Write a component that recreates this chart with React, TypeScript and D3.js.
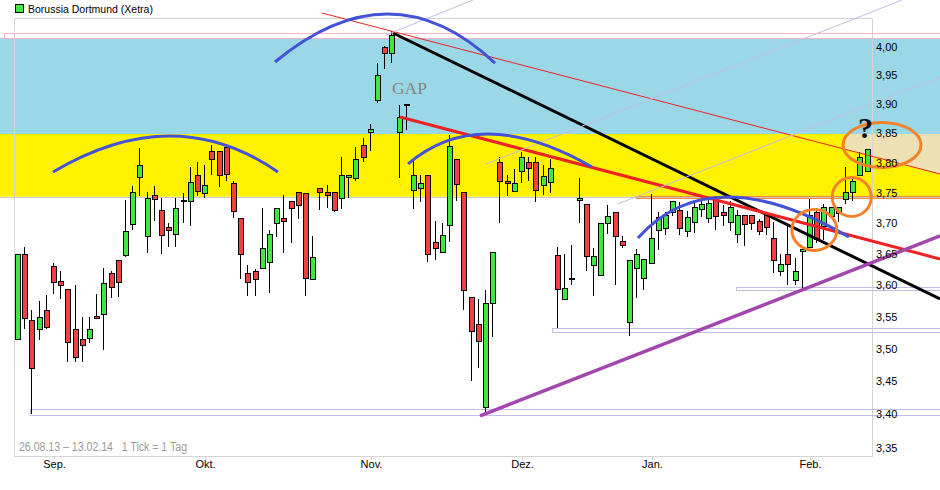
import * as d3 from "d3";

const W = 940;
const H = 490;
const FRAME = { left: 14, top: 18, right: 872, bottom: 456 };

// trading days, 26.08.13 - 13.02.14
const dates = [
  "26.08.13", "27.08.13", "28.08.13", "29.08.13", "30.08.13",
  "02.09.13", "03.09.13", "04.09.13", "05.09.13", "06.09.13", "09.09.13", "10.09.13", "11.09.13", "12.09.13", "13.09.13",
  "16.09.13", "17.09.13", "18.09.13", "19.09.13", "20.09.13", "23.09.13", "24.09.13", "25.09.13", "26.09.13", "27.09.13", "30.09.13",
  "01.10.13", "02.10.13", "03.10.13", "04.10.13", "07.10.13", "08.10.13", "09.10.13", "10.10.13", "11.10.13", "14.10.13",
  "15.10.13", "16.10.13", "17.10.13", "18.10.13", "21.10.13", "22.10.13", "23.10.13", "24.10.13", "25.10.13", "28.10.13",
  "29.10.13", "30.10.13", "31.10.13",
  "01.11.13", "04.11.13", "05.11.13", "06.11.13", "07.11.13", "08.11.13", "11.11.13", "12.11.13", "13.11.13", "14.11.13",
  "15.11.13", "18.11.13", "19.11.13", "20.11.13", "21.11.13", "22.11.13", "25.11.13", "26.11.13", "27.11.13", "28.11.13", "29.11.13",
  "02.12.13", "03.12.13", "04.12.13", "05.12.13", "06.12.13", "09.12.13", "10.12.13", "11.12.13", "12.12.13", "13.12.13",
  "16.12.13", "17.12.13", "18.12.13", "19.12.13", "20.12.13", "23.12.13", "27.12.13", "30.12.13",
  "02.01.14", "03.01.14", "06.01.14", "07.01.14", "08.01.14", "09.01.14", "10.01.14", "13.01.14", "14.01.14", "15.01.14",
  "16.01.14", "17.01.14", "20.01.14", "21.01.14", "22.01.14", "23.01.14", "24.01.14", "27.01.14", "28.01.14", "29.01.14",
  "30.01.14", "31.01.14",
  "03.02.14", "04.02.14", "05.02.14", "06.02.14", "07.02.14", "10.02.14", "11.02.14", "12.02.14", "13.02.14",
];

const open = [
  3.515, 3.650, 3.545, 3.531, 3.560, 3.630, 3.607, 3.594, 3.531, 3.515,
  3.517, 3.552, 3.555, 3.620, 3.640, 3.648, 3.700, 3.777, 3.679, 3.746,
  3.721, 3.693, 3.683, 3.737, 3.737, 3.779, 3.749, 3.820, 3.819, 3.827,
  3.766, 3.709, 3.619, 3.623, 3.627, 3.637, 3.700, 3.708, 3.737, 3.751,
  3.749, 3.610, 3.758, 3.751, 3.751, 3.740, 3.776, 3.774, 3.830, 3.852,
  3.906, 3.999, 3.990, 3.852, 3.898, 3.754, 3.758, 3.779, 3.670, 3.653,
  3.697, 3.806, 3.751, 3.581, 3.538, 3.410, 3.571, 3.801, 3.769, 3.753,
  3.786, 3.801, 3.801, 3.763, 3.768, 3.648, 3.578, 3.610, 3.737, 3.731,
  3.632, 3.616, 3.700, 3.719, 3.671, 3.542, 3.628, 3.611, 3.635, 3.689,
  3.691, 3.718, 3.721, 3.687, 3.703, 3.723, 3.708, 3.738, 3.719, 3.703,
  3.683, 3.714, 3.713, 3.704, 3.714, 3.675, 3.623, 3.650, 3.607, 3.654,
  3.661, 3.719, 3.696, 3.713, 3.716, 3.740, 3.751, 3.779, 3.786,
];
const high = [
  3.650, 3.661, 3.561, 3.575, 3.584, 3.635, 3.623, 3.594, 3.600, 3.550,
  3.550, 3.586, 3.628, 3.623, 3.640, 3.738, 3.761, 3.825, 3.751, 3.761,
  3.741, 3.701, 3.741, 3.749, 3.793, 3.801, 3.797, 3.830, 3.819, 3.827,
  3.769, 3.709, 3.632, 3.625, 3.725, 3.688, 3.725, 3.747, 3.737, 3.751,
  3.749, 3.679, 3.758, 3.763, 3.751, 3.810, 3.779, 3.827, 3.842, 3.865,
  3.972, 4.001, 4.028, 3.898, 3.898, 3.806, 3.779, 3.779, 3.704, 3.700,
  3.847, 3.806, 3.751, 3.581, 3.578, 3.593, 3.653, 3.810, 3.779, 3.789,
  3.818, 3.810, 3.810, 3.797, 3.806, 3.661, 3.650, 3.664, 3.774, 3.731,
  3.659, 3.700, 3.729, 3.719, 3.679, 3.640, 3.658, 3.642, 3.748, 3.718,
  3.718, 3.736, 3.734, 3.720, 3.735, 3.740, 3.739, 3.745, 3.730, 3.736,
  3.721, 3.714, 3.713, 3.707, 3.714, 3.702, 3.650, 3.697, 3.643, 3.658,
  3.740, 3.725, 3.732, 3.727, 3.726, 3.793, 3.774, 3.818, 3.823,
];
const low = [
  3.515, 3.531, 3.401, 3.514, 3.531, 3.586, 3.578, 3.479, 3.479, 3.479,
  3.509, 3.549, 3.499, 3.580, 3.581, 3.645, 3.689, 3.744, 3.651, 3.704,
  3.650, 3.661, 3.661, 3.700, 3.695, 3.744, 3.741, 3.779, 3.759, 3.769,
  3.708, 3.610, 3.582, 3.583, 3.627, 3.587, 3.678, 3.651, 3.667, 3.706,
  3.582, 3.610, 3.721, 3.725, 3.718, 3.723, 3.741, 3.769, 3.801, 3.819,
  3.902, 3.960, 3.971, 3.774, 3.855, 3.723, 3.735, 3.637, 3.640, 3.653,
  3.670, 3.737, 3.560, 3.450, 3.471, 3.403, 3.519, 3.700, 3.744, 3.751,
  3.766, 3.769, 3.735, 3.746, 3.749, 3.533, 3.578, 3.600, 3.700, 3.623,
  3.583, 3.616, 3.682, 3.600, 3.660, 3.520, 3.580, 3.592, 3.635, 3.657,
  3.681, 3.712, 3.681, 3.678, 3.684, 3.710, 3.701, 3.689, 3.696, 3.687,
  3.667, 3.662, 3.688, 3.680, 3.680, 3.620, 3.615, 3.600, 3.600, 3.595,
  3.661, 3.667, 3.672, 3.713, 3.702, 3.731, 3.737, 3.779, 3.786,
];
const close = [
  3.650, 3.549, 3.470, 3.549, 3.534, 3.604, 3.601, 3.511, 3.487, 3.506,
  3.531, 3.549, 3.604, 3.598, 3.604, 3.687, 3.752, 3.797, 3.741, 3.740,
  3.680, 3.688, 3.725, 3.737, 3.768, 3.753, 3.763, 3.806, 3.779, 3.781,
  3.719, 3.650, 3.604, 3.610, 3.659, 3.682, 3.725, 3.703, 3.725, 3.729,
  3.610, 3.645, 3.751, 3.746, 3.721, 3.779, 3.779, 3.806, 3.810, 3.857,
  3.950, 3.989, 4.021, 3.877, 3.898, 3.779, 3.766, 3.650, 3.661, 3.680,
  3.828, 3.764, 3.592, 3.528, 3.511, 3.571, 3.653, 3.769, 3.766, 3.767,
  3.810, 3.791, 3.754, 3.778, 3.791, 3.594, 3.595, 3.610, 3.741, 3.646,
  3.646, 3.700, 3.711, 3.680, 3.664, 3.640, 3.650, 3.642, 3.676, 3.710,
  3.713, 3.736, 3.691, 3.710, 3.727, 3.731, 3.733, 3.711, 3.714, 3.727,
  3.714, 3.700, 3.700, 3.688, 3.695, 3.640, 3.634, 3.634, 3.622, 3.658,
  3.713, 3.675, 3.727, 3.727, 3.726, 3.751, 3.769, 3.810, 3.823,
];

const yTicks = [4.0, 3.95, 3.9, 3.85, 3.8, 3.75, 3.7, 3.65, 3.6, 3.55, 3.5, 3.45, 3.4, 3.35];
const monthLabels = ["Sep.", "Okt.", "Nov.", "Dez.", "Jan.", "Feb."];
const monthStarts = ["02.09.13", "01.10.13", "01.11.13", "02.12.13", "02.01.14", "03.02.14"];

// zones in price
const blueZone = [3.8486, 4.0154];
const yellowZone = [3.7435, 3.8486];

// horizontal support boxes: start (trading-day index), low, high
const boxFrom = [-1.94, 1.67, 74.2, 99.7];
const boxLow = [4.0154, 3.399, 3.5263, 3.5923];
const boxHigh = [4.0237, 3.4084, 3.5325, 3.5971];
const resistFrom = 85.8;
const resistBox = [3.7419, 3.7452];

// trend lines: [index, price]
const trendFrom: [number, number][] = [
  [52.08, 4.0243], [53.06, 3.8777], [42.22, 4.06], [64.17, 3.3978],
  [51.11, 4.0207], [65.0, 3.798], [83.33, 3.7314],
];
const trendTo: [number, number][] = [
  [128.06, 3.578], [128.06, 3.6419], [128.06, 3.7812], [128.06, 3.6791],
  [63.19, 4.0834], [122.78, 4.0834], [128.06, 3.9468],
];
const trendStyle = [
  { c: "#000000", w: 3 },
  { c: "#ee2222", w: 3 },
  { c: "#ee2222", w: 1 },
  { c: "#a247ad", w: 3.5 },
  { c: "#c4bce4", w: 1 },
  { c: "#c4bce4", w: 1 },
  { c: "#c4bce4", w: 1 },
];

// arcs: start, top, end
const arcStart: [number, number][] = [[4.86, 3.7846], [35.7, 3.973], [54.17, 3.798], [86.1, 3.6758]];
const arcTop: [number, number][] = [[21.1, 3.8453], [51.4, 4.0582], [65.56, 3.8486], [98.5, 3.743]];
const arcEnd: [number, number][] = [[36.1, 3.7846], [66.25, 3.9712], [79.72, 3.793], [115.4, 3.6774]];

// orange circles
const circleAt: [number, number][] = [[120.0, 3.83], [115.8, 3.743], [110.6, 3.6888]];
const circleR = [[39, 22.5], [19.5, 19.5], [22.5, 20.5]];

const gapAt: [number, number] = [51.94, 3.9173];
const questionAt: [number, number] = [116.67, 3.8418];
const beigeFrom = 115.0;

export default function App() {
  const x = d3.scalePoint<string>().domain(dates).range([18, 867.6]);
  const xi = d3.scaleLinear().domain([0, dates.length - 1]).range([18, 867.6]);
  const y = d3.scaleLog().domain([3.35, 4.0]).range([448, 46.7]);
  const fmt = (v: number) => d3.format(".2f")(v).replace(".", ",");
  const line = d3
    .line<[number, number]>()
    .x((d) => xi(d[0]))
    .y((d) => y(d[1]));

  const arcPath = (a: [number, number], t: [number, number], b: [number, number]) => {
    const p0 = [xi(a[0]), y(a[1])];
    const p1 = [xi(t[0]), y(t[1])];
    const p2 = [xi(b[0]), y(b[1])];
    const cxp = 2 * p1[0] - (p0[0] + p2[0]) / 2;
    const cyp = 2 * p1[1] - (p0[1] + p2[1]) / 2;
    const p = d3.path();
    p.moveTo(p0[0], p0[1]);
    p.quadraticCurveTo(cxp, cyp, p2[0], p2[1]);
    return p.toString();
  };

  // thin red line in pixel space for the beige area
  const tr0 = [xi(trendFrom[2][0]), y(trendFrom[2][1])];
  const tr1 = [xi(trendTo[2][0]), y(trendTo[2][1])];
  const thinRedY = (px: number) => tr0[1] + ((px - tr0[0]) * (tr1[1] - tr0[1])) / (tr1[0] - tr0[0]);
  const bx0 = xi(beigeFrom);
  const beige = `M${bx0},${y(yellowZone[1])} L${W},${y(yellowZone[1])} L${W},${thinRedY(W)} L${bx0},${thinRedY(bx0)} Z`;

  return (
    <div style={{ position: "fixed", left: 0, top: 0, width: W, height: H, background: "#fff" }}>
      <svg width={W} height={H} style={{ display: "block" }} fontFamily="'Liberation Sans', Arial, sans-serif">
        {/* zones */}
        <rect x={0} y={y(blueZone[1])} width={W} height={y(blueZone[0]) - y(blueZone[1])} fill="#9ad8e8" />
        <rect x={0} y={y(yellowZone[1])} width={W} height={y(yellowZone[0]) - y(yellowZone[1])} fill="#fff200" />
        <path d={beige} fill="#ede0b2" />
        <line x1={0} x2={W} y1={Math.round(y(yellowZone[0])) + 0.5} y2={Math.round(y(yellowZone[0])) + 0.5} stroke="#c8c8c8" />

        {/* frame */}
        <rect
          x={FRAME.left + 0.5}
          y={FRAME.top + 0.5}
          width={FRAME.right - FRAME.left}
          height={FRAME.bottom - FRAME.top}
          fill="none"
          stroke="#d4d4d4"
        />

        {/* support boxes */}
        {boxFrom.map((f, i) => (
          <rect
            key={"b" + i}
            x={Math.round(xi(f)) + 0.5}
            y={Math.round(y(boxHigh[i])) + 0.5}
            width={W - Math.round(xi(f))}
            height={Math.max(3, Math.round(y(boxLow[i]) - y(boxHigh[i])))}
            fill="none"
            stroke={i === 0 ? "#f4b0c8" : "#c4bce4"}
            shapeRendering="crispEdges"
          />
        ))}
        <rect
          x={Math.round(xi(resistFrom)) + 0.5}
          y={Math.round(y(resistBox[1])) + 0.5}
          width={W - Math.round(xi(resistFrom))}
          height={2}
          fill="none"
          stroke="#f58a3a"
          shapeRendering="crispEdges"
        />

        {/* candles */}
        <g shapeRendering="crispEdges">
          {dates.map((d, i) => {
            const cx = Math.round(x(d) as number);
            const yO = y(open[i]);
            const yC = y(close[i]);
            const top = Math.round(Math.min(yO, yC));
            const h = Math.round(Math.abs(yO - yC));
            const up = close[i] >= open[i];
            const doji = h < 1;
            return (
              <g key={d}>
                <line
                  x1={cx - 0.5}
                  x2={cx - 0.5}
                  y1={Math.round(y(high[i]))}
                  y2={Math.round(y(low[i]))}
                  stroke="#000"
                />
                {doji ? (
                  <rect x={cx - 3} y={top - 1} width={6} height={2} fill="#000" />
                ) : (
                  <rect
                    x={cx - 2.5}
                    y={top + 0.5}
                    width={5}
                    height={h}
                    fill={up ? "#3ee83e" : "#f04040"}
                    stroke="#000"
                  />
                )}
              </g>
            );
          })}
        </g>

        {/* trend lines */}
        {trendFrom.map((f, i) => (
          <path
            key={"t" + i}
            d={line([f, trendTo[i]]) ?? ""}
            fill="none"
            stroke={trendStyle[i].c}
            strokeWidth={trendStyle[i].w}
          />
        ))}

        {/* arcs */}
        {arcStart.map((a, i) => (
          <path key={"a" + i} d={arcPath(a, arcTop[i], arcEnd[i])} fill="none" stroke="#4352d6" strokeWidth={3} />
        ))}

        {/* circles */}
        {circleAt.map((c, i) => (
          <ellipse
            key={"c" + i}
            cx={xi(c[0])}
            cy={y(c[1])}
            rx={circleR[i][0]}
            ry={circleR[i][1]}
            fill="none"
            stroke="#f5822a"
            strokeWidth={3}
          />
        ))}

        <text x={xi(gapAt[0])} y={y(gapAt[1])} fontFamily="'Liberation Serif', serif" fontSize={17.5} fill="#858585">
          GAP
        </text>
        <text
          x={xi(questionAt[0])}
          y={y(questionAt[1])}
          fontFamily="'Liberation Serif', serif"
          fontWeight="bold"
          fontSize={30}
          fill="#111"
        >
          ?
        </text>

        {/* right axis */}
        {yTicks.map((t) => (
          <text key={t} x={876} y={y(t)} dy="0.35em" fontSize={11} fill="#000">
            {fmt(t)}
          </text>
        ))}

        {/* month ticks */}
        {monthStarts.map((m, i) => {
          const mx = Math.round(x(m) as number) + 0.5;
          return (
            <g key={m}>
              <line x1={mx} x2={mx} y1={FRAME.bottom} y2={FRAME.bottom + 4} stroke="#d4d4d4" />
              <text x={mx} y={468} textAnchor="middle" fontSize={11} fill="#000">
                {monthLabels[i]}
              </text>
            </g>
          );
        })}

        <text
          x={19}
          y={450.5}
          fontSize={12}
          fill="#9a9a9a"
          textLength={168}
          lengthAdjust="spacingAndGlyphs"
          style={{ whiteSpace: "pre" }}
        >
          {`${dates[0]} – ${dates[dates.length - 1]}   1 Tick = 1 Tag`}
        </text>

        {/* legend */}
        <rect x={15.5} y={4.5} width={8} height={8} fill="#44e844" stroke="#000" shapeRendering="crispEdges" />
        <text x={28} y={13} fontSize={10.5} fill="#000">
          Borussia Dortmund (Xetra)
        </text>
      </svg>
    </div>
  );
}
